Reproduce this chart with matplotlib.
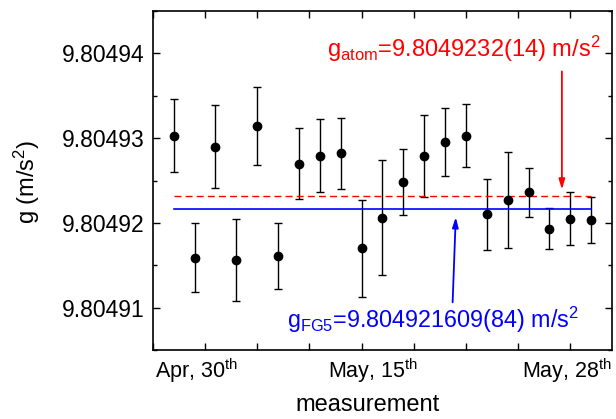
import matplotlib
matplotlib.use('Agg')
import matplotlib.pyplot as plt
from matplotlib.ticker import MultipleLocator, FormatStrFormatter
import numpy as np

plt.rcParams['font.family'] = ['Liberation Sans', 'DejaVu Sans']
plt.rcParams['mathtext.fontset'] = 'custom'
plt.rcParams['mathtext.rm'] = 'Liberation Sans'
plt.rcParams['mathtext.it'] = 'Liberation Sans:italic'

meas = np.arange(1, 22)
g_vals = [9.8049303, 9.8049159, 9.8049290, 9.8049156, 9.8049314, 9.8049161,
          9.8049270, 9.8049279, 9.8049282, 9.8049170, 9.8049206, 9.8049248,
          9.8049279, 9.8049295, 9.8049303, 9.8049210, 9.8049227, 9.8049236,
          9.8049193, 9.8049205, 9.8049203]
g_err = np.array([4.3, 4.1, 4.9, 4.8, 4.6, 3.9, 4.2, 4.3, 4.2, 5.7, 6.8,
                  3.9, 4.8, 4.0, 3.7, 4.2, 5.7, 2.9, 2.4, 3.1, 2.7]) * 1e-6
g_atom = 9.8049232
g_fg5 = 9.804921609
date_labels = ['Apr, 30$^{\\mathrm{th}}$', 'May, 15$^{\\mathrm{th}}$', 'May, 28$^{\\mathrm{th}}$']
date_pos = [0.1, 8.4, 17.7]

fig = plt.figure(figsize=(6.16, 4.19), dpi=100)
ax = fig.add_axes([0.248, 0.1647, 0.7455, 0.809])

ax.errorbar(meas, g_vals, yerr=g_err, fmt='o', color='black', ms=6,
            ecolor='black', elinewidth=1, capsize=3, capthick=1)
ax.plot([meas[0], meas[-1]], [g_atom, g_atom], color='red', ls=(0, (5, 3)), lw=1)
ax.plot([meas[0], meas[-1]], [g_fg5, g_fg5], color='blue', lw=1.2)

ax.annotate('', xy=(19.6, 9.8049236), xytext=(19.6, 9.8049382),
            arrowprops=dict(arrowstyle='-|>,head_width=0.18,head_length=0.6',
                            color='red', lw=1.3))
ax.annotate('', xy=(14.52, 9.8049210), xytext=(14.36, 9.8049103),
            arrowprops=dict(arrowstyle='-|>,head_width=0.18,head_length=0.6',
                            color='blue', lw=1.3))

ax.text(0.379, 0.864, 'g$_{\\mathrm{atom}}$=9.8049232(14) m/s$^{\\mathrm{2}}$',
        color='red', fontsize=17, ha='left', va='baseline', transform=ax.transAxes)
ax.text(0.2917, 0.065, 'g$_{\\mathrm{FG5}}$=9.804921609(84) m/s$^{\\mathrm{2}}$',
        color='blue', fontsize=16.8, ha='left', va='baseline', transform=ax.transAxes)

for lab, xp in zip(date_labels, date_pos):
    ax.text(xp, -0.083, lab, fontsize=15.5, ha='left', va='baseline',
            transform=ax.get_xaxis_transform())

ax.set_xlim(0, 22)
ax.set_ylim(9.804905, 9.804945)
ax.xaxis.set_major_locator(MultipleLocator(2.5))
ax.set_xticklabels([])
ax.yaxis.set_major_locator(MultipleLocator(1e-5))
ax.yaxis.set_minor_locator(MultipleLocator(5e-6))
ax.yaxis.set_major_formatter(FormatStrFormatter('%.5f'))
ax.tick_params(which='both', direction='in', top=True, right=True, width=1)
ax.tick_params(which='major', length=5, labelsize=16.5, pad=6)
ax.tick_params(which='minor', length=3)
for sp in ax.spines.values():
    sp.set_linewidth(1.2)

fig.text(0.597, 0.019, 'measurement', fontsize=17, ha='center', va='baseline')
fig.text(0.044, 0.566, 'g (m/s$^{\\mathrm{2}}$)', fontsize=17, rotation=90,
         ha='center', va='center')

fig.savefig('out.png', dpi=100)
